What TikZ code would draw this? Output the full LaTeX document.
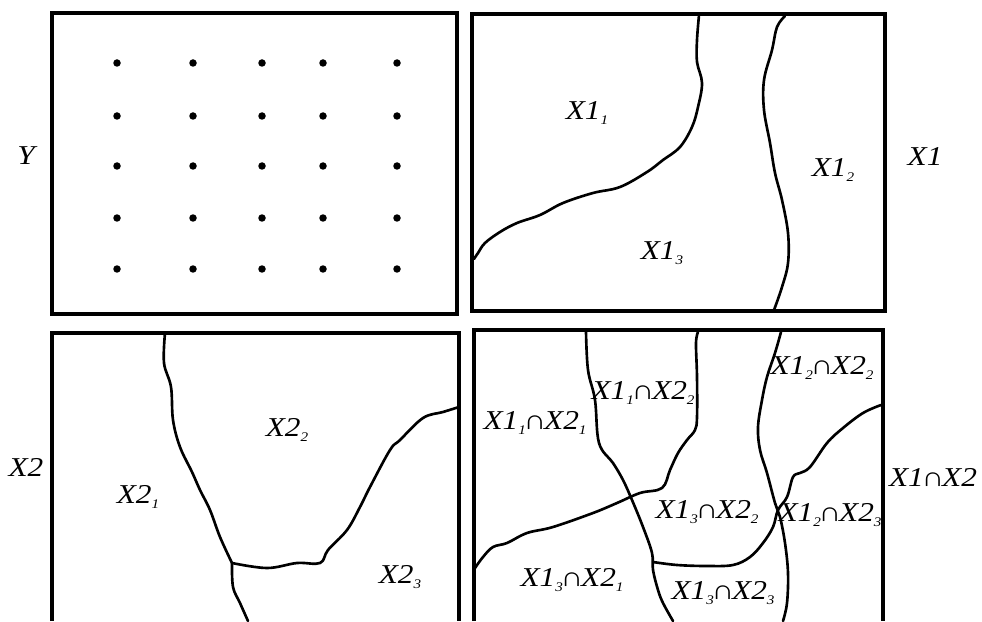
\documentclass[tikz,border=0pt]{standalone}
\usepackage{fontspec}
\setmainfont{Liberation Serif}[FakeStretch=1.15]
\usetikzlibrary{positioning}
\newcommand{\rs}[1]{\raisebox{-0.45ex}{\fontsize{7.5}{8}\selectfont #1}}
\newcommand{\cp}{\kern-0.08em∩\kern-0.08em}
\tikzset{frame/.style={line width=2.1pt, line join=miter}, border/.style={line width=1.5pt, line join=round, line cap=round}}

\begin{document}
\begin{tikzpicture}[
    x=0.02cm, y=-0.02cm,
    lbl/.style={inner sep=0pt, font=\itshape\fontsize{15.5}{17}\selectfont},
    dot/.style={radius=0.075cm}
]
\useasboundingbox (0,0) rectangle (982,621);

% Frames
\draw[frame] (52,13) rectangle (457,314);
\draw[frame] (472,14) rectangle (885,311);
\draw[frame] (52,621) -- (52,333) -- (459,333) -- (459,621);
\draw[frame] (474,621) -- (474,330) -- (883,330) -- (883,621);

% Dots
\foreach \x in {117,193,262,323,397}
  \foreach \y in {63,116,166,218,269}
    \fill (\x,\y) circle[dot];

% Borders of X1
\draw[border] plot[smooth, tension=0.6] coordinates {(699,15) (697,40) (697,62) (702,83) (698,107) (692,127) (680,147) (663,160) (647,172) (620,187) (593,193) (563,203) (540,215) (517,223) (500,232) (485,243) (478,253) (474,259)};
\draw[border] plot[smooth, tension=0.6] coordinates {(785,16) (777,27) (772,50) (764,80) (764,110) (770,143) (775,173) (782,200) (788,233) (788,263) (782,287) (774,310)};

% Borders of X2
\draw[border] plot[smooth, tension=0.6] coordinates {(165,333) (164,363) (171,387) (173,420) (180,447) (192,472) (200,490) (210,510) (220,537) (232,563)};
\draw[border] plot[smooth, tension=0.6] coordinates {(232,563) (267,568) (297,563) (320,563) (328,550) (347,530) (360,507) (370,487) (390,450) (400,440) (423,418) (443,412) (459,407)};
\draw[border] plot[smooth, tension=0.6] coordinates {(232,563) (233,587) (240,603) (248,621)};

% Borders of X1 and X2 together
\draw[border] plot[smooth, tension=0.6] coordinates {(586,332) (588,370) (595,400) (599,443) (613,463) (623,480) (632,500) (643,527) (652,553) (653,570) (658,590) (663,603) (673,621)};
\draw[border] plot[smooth, tension=0.6] coordinates {(698,332) (696,343) (697,377) (697,417) (695,430) (687,440) (678,453) (670,470) (662,488) (640,493) (617,503) (593,513) (553,527) (527,533) (507,543) (493,547) (483,557) (475,568)};
\draw[border] plot[smooth, tension=0.6] coordinates {(781,332) (775,353) (767,377) (762,400) (758,427) (760,450) (767,473) (775,503) (780,517) (785,543) (788,573) (787,603) (783,621)};
\draw[border] plot[smooth, tension=0.6] coordinates {(881,405) (863,413) (843,428) (827,443) (810,467) (800,473) (793,477) (787,497) (778,510) (773,527) (763,543) (750,557) (733,565) (707,566) (677,565) (653,562)};

% Labels
\node[lbl] (y) at (26,156) {Y};
\node[lbl] (x1) at (925,157) {X1};
\node[lbl] (x2) at (26,467) {X2};
\node[lbl] (x1x2) at (933,477) {X1\cp X2};
\node[lbl] (x1a) at (587,113) {X1\rs{1}};
\node[lbl] (x1b) at (833,170) {X1\rs{2}};
\node[lbl] (x1c) at (662,253) {X1\rs{3}};
\node[lbl] (x2a) at (138,497) {X2\rs{1}};
\node[lbl] (x2b) at (287,430) {X2\rs{2}};
\node[lbl] (x2c) at (400,577) {X2\rs{3}};
\node[lbl] (x1ax2a) at (535,423) {X1\rs{1}\cp X2\rs{1}};
\node[lbl] (x1ax2b) at (643,393) {X1\rs{1}\cp X2\rs{2}};
\node[lbl] (x1bx2b) at (822,368) {X1\rs{2}\cp X2\rs{2}};
\node[lbl] (x1cx2b) at (707,512) {X1\rs{3}\cp X2\rs{2}};
\node[lbl] (x1bx2c) at (830,515) {X1\rs{2}\cp X2\rs{3}};
\node[lbl] (x1cx2a) at (572,580) {X1\rs{3}\cp X2\rs{1}};
\node[lbl] (x1cx2c) at (723,593) {X1\rs{3}\cp X2\rs{3}};

\end{tikzpicture}
\end{document}
